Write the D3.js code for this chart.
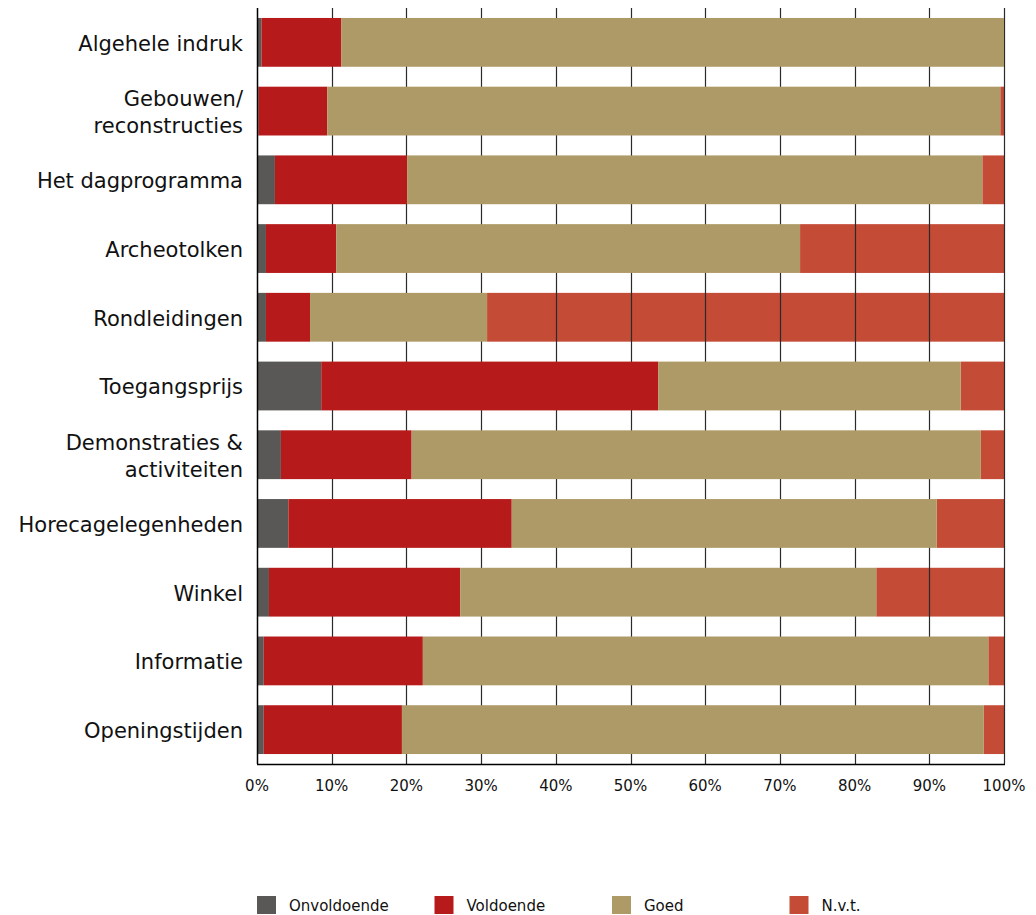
<!DOCTYPE html>
<html>
<head>
<meta charset="utf-8">
<script src="https://cdn.jsdelivr.net/npm/d3@7"></script>
<style>
  body { margin: 0; background: #fff; }
  text { font-family: "DejaVu Sans", sans-serif; fill: #111; }
</style>
</head>
<body>
<svg></svg>
<script>
var categories = [
  "Algehele indruk",
  "Gebouwen/\nreconstructies",
  "Het dagprogramma",
  "Archeotolken",
  "Rondleidingen",
  "Toegangsprijs",
  "Demonstraties &\nactiviteiten",
  "Horecagelegenheden",
  "Winkel",
  "Informatie",
  "Openingstijden"
];

var seriesNames = ["Onvoldoende", "Voldoende", "Goed", "N.v.t."];
var seriesColors = ["#595856", "#b71a1a", "#ae9a66", "#c44b36"];

// percentages per category
var onvoldoende = [0.6, 0.2, 2.4, 1.2, 1.2, 8.6, 3.2, 4.2, 1.6, 0.9, 0.9];
var voldoende   = [10.7, 9.2, 17.7, 9.4, 5.9, 45.1, 17.5, 29.9, 25.6, 21.3, 18.5];
var goed        = [88.7, 90.1, 77.0, 62.1, 23.7, 40.5, 76.2, 56.9, 55.7, 75.7, 77.9];
var nvt         = [0, 0.5, 2.9, 27.3, 69.2, 5.8, 3.1, 9.0, 17.1, 2.1, 2.7];

var tickValues = [0, 10, 20, 30, 40, 50, 60, 70, 80, 90, 100];

var width = 1036;
var height = 915;
var margin = {top: 8, right: 32, bottom: 151, left: 257};

var rows = categories.map((c, i) => ({
  cat: c,
  "Onvoldoende": onvoldoende[i],
  "Voldoende": voldoende[i],
  "Goed": goed[i],
  "N.v.t.": nvt[i]
}));

var stacked = d3.stack().keys(seriesNames)(rows);

var xScale = d3.scaleLinear()
                .domain([0, 100])
                .range([margin.left, width - margin.right]);

var yScale = d3.scaleBand()
                .domain(categories)
                .range([margin.top, height - margin.bottom])
                .paddingInner(0.29)
                .paddingOuter(0.145);

var svg = d3.select("svg")
            .attr("width", width)
            .attr("height", height);

// N.v.t. sits under the gridlines, the other series cover them
var layerOrder = [3, 0, 1, 2];

function drawLayer(k) {
  svg.append("g")
      .attr("fill", seriesColors[k])
    .selectAll("rect")
    .data(stacked[k])
    .enter()
    .append("rect")
      .attr("x", d => xScale(d[0]))
      .attr("y", (d, i) => yScale(categories[i]))
      .attr("width", d => xScale(d[1]) - xScale(d[0]))
      .attr("height", yScale.bandwidth());
}

drawLayer(layerOrder[0]);

svg.append("g")
  .selectAll("line")
  .data(tickValues.slice(1))
  .enter()
  .append("line")
    .attr("x1", d => Math.round(xScale(d)) + 0.5)
    .attr("x2", d => Math.round(xScale(d)) + 0.5)
    .attr("y1", margin.top)
    .attr("y2", height - margin.bottom)
    .attr("stroke", "#2a2a2a")
    .attr("stroke-width", 1.2);

layerOrder.slice(1).forEach(drawLayer);

// axes
svg.append("line")
    .attr("x1", margin.left + 0.5)
    .attr("x2", margin.left + 0.5)
    .attr("y1", margin.top)
    .attr("y2", height - margin.bottom)
    .attr("stroke", "#000")
    .attr("stroke-width", 1.5);

svg.append("line")
    .attr("x1", margin.left)
    .attr("x2", width - margin.right + 1)
    .attr("y1", height - margin.bottom + 0.5)
    .attr("y2", height - margin.bottom + 0.5)
    .attr("stroke", "#000")
    .attr("stroke-width", 1.5);

svg.append("g")
  .selectAll("text")
  .data(tickValues)
  .enter()
  .append("text")
    .attr("x", d => xScale(d))
    .attr("y", height - margin.bottom + 27)
    .attr("text-anchor", "middle")
    .attr("font-size", 15)
    .text(d => d + "%");

// category labels
var labels = svg.append("g")
  .selectAll("text")
  .data(categories)
  .enter()
  .append("text")
    .attr("text-anchor", "end")
    .attr("font-size", 21)
    .attr("transform", d => "translate(" + (margin.left - 14) + "," + (yScale(d) + yScale.bandwidth() / 2 + 1) + ")");

labels.each(function(d) {
  var lines = d.split("\n");
  var t = d3.select(this);
  lines.forEach((l, j) => {
    t.append("tspan")
      .attr("x", 0)
      .attr("y", (j - (lines.length - 1) / 2) * 27)
      .attr("dy", "0.35em")
      .text(l);
  });
});

// legend
var legend = svg.append("g")
  .selectAll("g")
  .data(seriesNames)
  .enter()
  .append("g")
    .attr("transform", (d, i) => "translate(" + (257 + i * 177.5) + ",896)");

legend.append("rect")
    .attr("width", 19)
    .attr("height", 18)
    .attr("fill", (d, i) => seriesColors[i]);

legend.append("text")
    .attr("x", 32)
    .attr("y", 15)
    .attr("font-size", 15)
    .text(d => d);
</script>
</body>
</html>
